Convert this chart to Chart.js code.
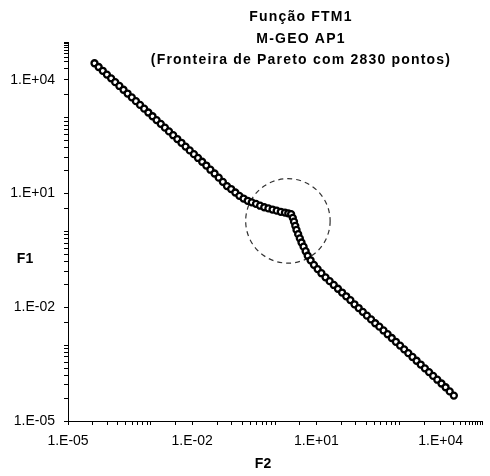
<!DOCTYPE html>
<html>
<head>
<meta charset="utf-8">
<script src="https://cdn.jsdelivr.net/npm/chart.js@4.4.1/dist/chart.umd.min.js"></script>
<style>
    body { margin: 0; background: #fff; }
    #wrap { width: 490px; height: 476px; }
</style>
</head>
<body>
<div id="wrap"><canvas id="paretoChart" width="490" height="476"></canvas></div>
<script>
// --- DATA ---
const f2Values = [
    4.37e-5, 5.50e-5, 6.92e-5, 8.71e-5, 1.10e-4, 1.38e-4, 1.74e-4, 2.19e-4, 2.75e-4, 3.47e-4,
    4.37e-4, 5.50e-4, 6.92e-4, 8.71e-4, 1.10e-3, 1.38e-3, 1.74e-3, 2.19e-3, 2.75e-3, 3.47e-3,
    4.37e-3, 5.50e-3, 6.92e-3, 8.71e-3, 1.10e-2, 1.38e-2,
    1.74e-2, 2.19e-2, 2.75e-2, 3.47e-2, 4.37e-2, 5.50e-2, 6.92e-2, 8.71e-2,
    0.110, 0.138, 0.174, 0.219, 0.275, 0.347, 0.437, 0.550, 0.692, 0.871,
    1.10, 1.38, 1.74, 2.09, 2.45,
    2.69, 2.88, 3.09, 3.31, 3.63, 3.98, 4.37, 4.90, 5.50, 6.17,
    7.24, 8.71, 10.7, 13.2, 16.6, 20.9, 26.3, 33.1, 41.7,
    52.5, 66.1, 83.2, 105, 132, 166, 209, 263, 331, 417,
    525, 661, 832, 1050, 1320, 1660, 2090, 2630, 3310, 4170,
    5250, 6610, 8320, 1.05e4, 1.32e4, 1.66e4, 2.09e4
];
const f1Values = [
    2.75e4, 2.19e4, 1.74e4, 1.38e4, 1.10e4, 8710, 6920, 5500, 4370, 3470,
    2750, 2190, 1740, 1380, 1100, 871, 692, 550, 437, 347,
    275, 219, 174, 138, 110, 87.1,
    69.2, 55.0, 42.7, 33.9, 26.3, 20.4, 15.8, 13.2,
    10.7, 8.71, 7.41, 6.46, 5.89, 5.37, 4.79, 4.37, 4.07, 3.80,
    3.55, 3.31, 3.16, 3.02, 2.88,
    2.29, 1.82, 1.41, 1.10, 0.851, 0.661, 0.513, 0.398, 0.302, 0.229,
    0.174, 0.132, 0.102, 0.0794, 0.0617, 0.0490, 0.0389, 0.0309, 0.0245,
    0.0195, 0.0155, 0.0120, 9.55e-3, 7.59e-3, 6.03e-3, 4.79e-3, 3.80e-3, 3.09e-3, 2.45e-3,
    1.95e-3, 1.55e-3, 1.23e-3, 9.77e-4, 7.76e-4, 6.17e-4, 4.90e-4, 3.89e-4, 3.09e-4, 2.45e-4,
    1.95e-4, 1.55e-4, 1.23e-4, 9.77e-5, 7.76e-5, 6.03e-5, 4.68e-5
];

// eixos log: marcas principais e rótulos
const majorTicks = [1e-5, 1e-2, 1e1, 1e4];
const majorLabels = ['1.E-05', '1.E-02', '1.E+01', '1.E+04'];
const minorFactors = [4, 9, 16, 25, 36, 49, 64, 81, 100, 400];
const lastFactors = [2, 3, 4, 5, 6, 7, 8, 9];
const axisMin = 1e-5, axisMax = 1e5;

const titleLines = ['Função FTM1', 'M-GEO AP1', '(Fronteira de Pareto com 2830 pontos)'];
const xTitle = 'F2', yTitle = 'F1';

// círculo tracejado (centro em F2/F1, raio em décadas de F2)
const circleCenter = { f2: 2.05, f1: 1.9 };
const circleRadiusDecades = 1.02;

const FONT = '"Liberation Sans", Arial, sans-serif';

function buildTickValues() {
    let vals = [];
    majorTicks.forEach((m, i) => {
        vals.push(m);
        const facs = i < majorTicks.length - 1 ? minorFactors : lastFactors;
        facs.forEach(f => vals.push(m * f));
    });
    vals.push(axisMax);
    return vals.filter(v => v <= axisMax * 1.0001);
}

function tickLabel(value) {
    for (let i = 0; i < majorTicks.length; i++) {
        if (Math.abs(Math.log10(value) - Math.log10(majorTicks[i])) < 1e-6) return majorLabels[i];
    }
    return '';
}

function axisConfig(isX) {
    return {
        type: 'logarithmic',
        position: isX ? 'bottom' : 'left',
        min: axisMin,
        max: axisMax,
        afterBuildTicks: (scale) => {
            scale.ticks = buildTickValues().map(v => ({ value: v }));
        },
        afterFit: (scale) => {
            if (isX) scale.height = 55; else scale.width = 68;
        },
        grid: { drawOnChartArea: false, drawTicks: true, tickLength: 4, color: '#000', tickWidth: 1 },
        border: { color: '#000', width: 1 },
        ticks: {
            autoSkip: false,
            maxRotation: 0,
            minRotation: 0,
            padding: isX ? 8 : 9,
            color: '#000',
            font: { family: FONT, size: 14 },
            callback: (value) => tickLabel(value)
        }
    };
}

// títulos e círculo desenhados à mão
const extrasPlugin = {
    id: 'extras',
    beforeDatasetsDraw(chart) {
        const { ctx, scales: { x, y } } = chart;
        const cx = x.getPixelForValue(circleCenter.f2);
        const cy = y.getPixelForValue(circleCenter.f1);
        const r = x.getPixelForValue(circleCenter.f2 * Math.pow(10, circleRadiusDecades)) - cx;
        ctx.save();
        ctx.strokeStyle = '#333';
        ctx.lineWidth = 1.2;
        ctx.setLineDash([5, 4]);
        ctx.beginPath();
        ctx.arc(cx, cy, r, 0, Math.PI * 2);
        ctx.stroke();
        ctx.restore();
    },
    afterDraw(chart) {
        const ctx = chart.ctx;
        ctx.save();
        ctx.fillStyle = '#000';
        ctx.textAlign = 'center';
        ctx.textBaseline = 'alphabetic';
        ctx.font = 'bold 14px ' + FONT;
        ctx.letterSpacing = '1.2px';
        const baselines = [21, 43, 64];
        titleLines.forEach((t, i) => ctx.fillText(t, 301, baselines[i]));
        ctx.letterSpacing = '0px';
        ctx.fillText(xTitle, 263, 468);
        ctx.fillText(yTitle, 25, 263);
        ctx.restore();
    }
};

const ctx = document.getElementById('paretoChart').getContext('2d');
const myChart = new Chart(ctx, {
    type: 'scatter',
    data: {
        datasets: [{
            data: f2Values.map((v, i) => ({ x: v, y: f1Values[i] })),
            pointRadius: 3,
            pointBorderWidth: 2.3,
            borderColor: '#000',
            backgroundColor: '#fff',
            showLine: false
        }]
    },
    options: {
        responsive: false,
        animation: false,
        events: [],
        layout: { padding: { top: 42, right: 1, bottom: 0, left: 0 } },
        plugins: { legend: { display: false }, tooltip: { enabled: false } },
        scales: { x: axisConfig(true), y: axisConfig(false) }
    },
    plugins: [extrasPlugin]
});
</script>
</body>
</html>
